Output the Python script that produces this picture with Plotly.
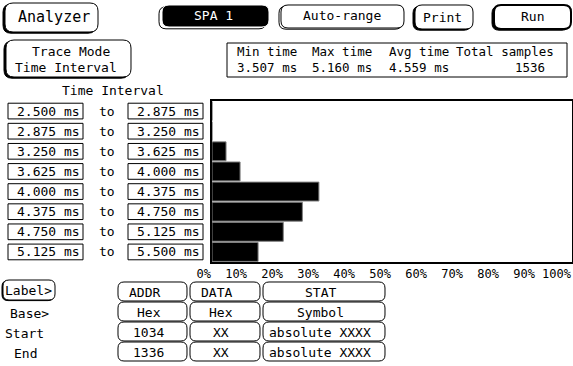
import plotly.graph_objects as go

W, H = 573, 366                                                                 #page size in pixels
FONT = "DejaVu Sans Mono"

# histogram data
lower_ms = ["2.500 ms", "2.875 ms", "3.250 ms", "3.625 ms", "4.000 ms", "4.375 ms", "4.750 ms", "5.125 ms"]
upper_ms = ["2.875 ms", "3.250 ms", "3.625 ms", "4.000 ms", "4.375 ms", "4.750 ms", "5.125 ms", "5.500 ms"]
share_pct = [0, 0, 3.9, 7.8, 29.7, 25.1, 19.8, 12.8]
tick_pct = [0, 10, 20, 30, 40, 50, 60, 70, 80, 90, 100]

stat_names = ["Min time", "Max time", "Avg time", "Total samples"]
stat_values = ["3.507 ms", "5.160 ms", "4.559 ms", "1536"]

label_names = ["ADDR", "DATA", "STAT"]
label_base = ["Hex", "Hex", "Symbol"]
label_start = ["1034", "XX", "absolute XXXX"]
label_end = ["1336", "XX", "absolute XXXX"]


def px(x):
    return x / W                                                                #pixel x -> paper


def py(y):
    return 1 - y / H                                                            #pixel y (from top) -> paper


def rpath(x0, y0, x1, y1, r):
    # rounded rectangle as svg path in paper coords (quadratic corners)
    p = lambda x, y: f"{px(x):.5f},{py(y):.5f}"
    return (f"M{p(x0 + r, y0)} L{p(x1 - r, y0)} Q{p(x1, y0)} {p(x1, y0 + r)} "
            f"L{p(x1, y1 - r)} Q{p(x1, y1)} {p(x1 - r, y1)} L{p(x0 + r, y1)} "
            f"Q{p(x0, y1)} {p(x0, y1 - r)} L{p(x0, y0 + r)} Q{p(x0, y0)} {p(x0 + r, y0)} Z")


shapes = []
annos = []


def button(x0, y0, x1, y1, r=7, shadow=2, fill="white", lw=1, sh_fill="black", sh_line="black"):
    if shadow:
        shapes.append(dict(type="path", xref="paper", yref="paper", layer="above",
                           path=rpath(x0 - shadow, y0 + shadow * 0.6, x1 - shadow, y1 + shadow * 0.6, r),
                           fillcolor=sh_fill, line=dict(color=sh_line, width=1)))
    shapes.append(dict(type="path", xref="paper", yref="paper", layer="above",
                       path=rpath(x0, y0, x1, y1, r), fillcolor=fill,
                       line=dict(color="black" if fill == "white" else "white", width=lw)))


def text(x, y, s, size=13, color="black", anchor="center"):
    annos.append(dict(x=px(x), y=py(y), xref="paper", yref="paper", text=s, showarrow=False,
                      xanchor=anchor, yanchor="middle", font=dict(family=FONT, size=size, color=color)))


# top row of soft keys
button(5, 3, 98, 32, r=8, shadow=2)
text(54, 17, "Analyzer", size=15)
button(162, 5, 269, 27, r=7, shadow=3, fill="black", sh_fill="white")
text(213, 15, "SPA 1", color="white")
button(281, 5, 404, 28, r=7, shadow=2, sh_fill="white")
text(342, 15, "Auto-range")
button(415, 5, 473, 29, r=7, shadow=2)
text(443, 17, "Print")
button(494, 5, 571, 29, r=7, shadow=2, lw=2)
text(532, 16, "Run")

# trace mode key
button(6, 40, 131, 77, r=8, shadow=2)
text(71, 51, "Trace Mode")
text(66, 67, "Time Interval")

# statistics box
shapes.append(dict(type="rect", xref="paper", yref="paper", x0=px(227), x1=px(567), y0=py(43), y1=py(77),
                   line=dict(color="black", width=1)))
for xs, name, val in zip([235, 310, 387, 454], stat_names, stat_values):
    text(xs, 51, name, size=12.5, anchor="left")
    if val.endswith("ms"):
        text(xs, 67, val, size=12.5, anchor="left")
    else:
        text(530, 67, val, size=12.5)

text(113, 91, "Time Interval")

# interval boxes, tied to the bar rows of the y axis
rows = list(range(len(lower_ms)))
for i, lo, hi in zip(rows, lower_ms, upper_ms):
    for bx0, bx1, s in [(8, 83, lo), (128, 203, hi)]:
        shapes.append(dict(type="rect", xref="paper", yref="y", x0=px(bx0), x1=px(bx1),
                           y0=i - 0.39, y1=i + 0.39, line=dict(color="black", width=1)))
        annos.append(dict(x=px(bx1 - 1), y=i, xref="paper", yref="y", text=s, showarrow=False,
                          xanchor="right", yanchor="middle", font=dict(family=FONT, size=13)))
    annos.append(dict(x=px(107), y=i, xref="paper", yref="y", text="to", showarrow=False,
                      xanchor="center", yanchor="middle", font=dict(family=FONT, size=13)))

# label / base / start / end panel
button(3, 280, 55, 300, r=6, shadow=1)
text(28, 290, "Label>")
text(29, 313, "Base>")
text(24, 333, "Start")
text(25, 353, "End")
cols = [(118, 187), (190, 260), (263, 385)]
for r_i, vals in enumerate([label_names, label_base, label_start, label_end]):
    top = 282 + 20 * r_i
    for (cx0, cx1), v in zip(cols, vals):
        button(cx0, top, cx1, top + 19, r=6, shadow=0)
        if r_i == 0 and v != "STAT":
            text(cx0 + 9, top + 10, v, anchor="left")
        else:
            text((cx0 + cx1) / 2 - 4, top + 10, v)

fig = go.Figure(go.Bar(
    x=share_pct, y=rows, orientation="h", width=0.94,
    marker=dict(color="black", line=dict(color="#808080", width=1)),
    hoverinfo="skip", showlegend=False))

fig.update_layout(
    width=W, height=H, autosize=False,
    margin=dict(l=0, r=0, t=0, b=0, pad=0),
    paper_bgcolor="white", plot_bgcolor="white",
    font=dict(family=FONT, size=13, color="black"),
    shapes=shapes, annotations=annos,
    xaxis=dict(domain=[px(212), px(572)], range=[0, 100], tickvals=tick_pct,
               ticktext=[f"{t}%" for t in tick_pct], ticklabelposition="outside left",
               tickangle=0, automargin=False, tickfont=dict(size=12),
               showgrid=False, zeroline=False, showline=True, mirror=True,
               linecolor="black", linewidth=2, ticks="", fixedrange=True),
    yaxis=dict(domain=[py(262), py(101)], range=[len(rows) - 0.5, -0.5], automargin=False,
               showticklabels=False, showgrid=False, zeroline=False, showline=True,
               mirror=True, linecolor="black", linewidth=2, ticks="", fixedrange=True),
)

# drop the default 8px body margin so the figure sits at the page corner
fig.write_html("out.html", config={"displayModeBar": False},
               post_script="document.body.style.margin='0';")
